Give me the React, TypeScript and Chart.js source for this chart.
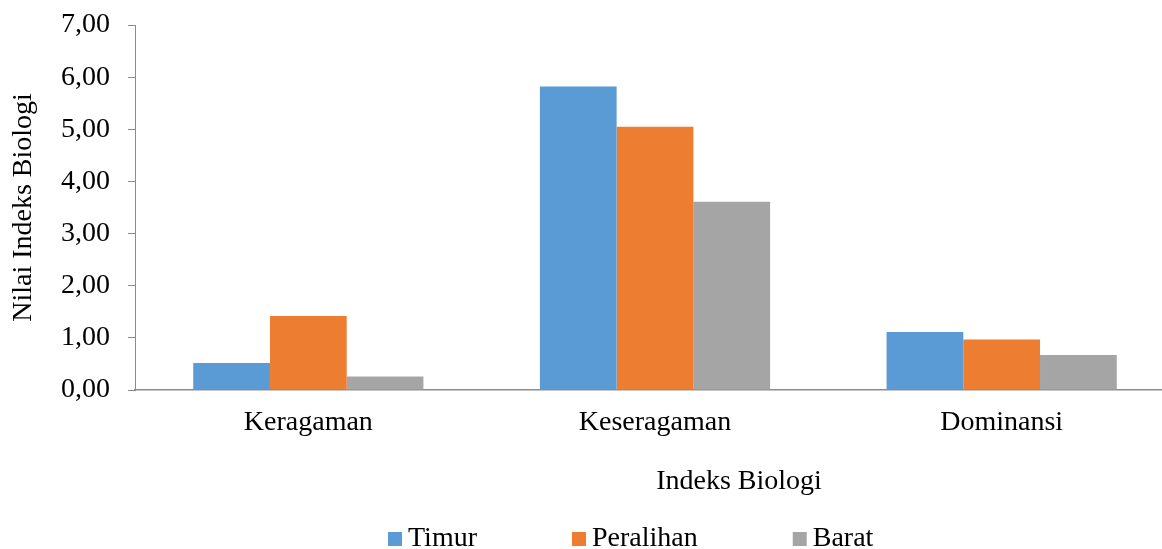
import React, { useEffect, useRef } from 'react';
import { Chart, registerables } from 'chart.js';

Chart.register(...registerables);

const categories = ['Keragaman', 'Keseragaman', 'Dominansi'];
const seriesNames = ['Timur', 'Peralihan', 'Barat'];
const timurValues = [0.52, 5.82, 1.11];
const peralihanValues = [1.42, 5.05, 0.97];
const baratValues = [0.26, 3.61, 0.67];
const seriesColors = ['#5B9BD5', '#ED7D31', '#A5A5A5'];
const yMin = 0;
const yMax = 7;
const yStep = 1;
const yTitle = 'Nilai Indeks Biologi';
const xTitle = 'Indeks Biologi';

const FONT_FAMILY = '"Liberation Serif", "Times New Roman", serif';
const FONT_SIZE = 28;
const AXIS_COLOR = '#8C8C8C';

const extrasPlugin = {
  id: 'extrasPlugin',
  afterDraw(chart: any) {
    const ctx = chart.ctx;
    ctx.save();
    ctx.font = `${FONT_SIZE}px ${FONT_FAMILY}`;
    ctx.fillStyle = '#000';
    ctx.textAlign = 'center';
    ctx.textBaseline = 'alphabetic';
    ctx.fillText(xTitle, 739, 489);

    // legend
    ctx.textAlign = 'left';
    const baseline = 546;
    const box = 14;
    let x = 388;
    chart.data.datasets.forEach((ds: any) => {
      ctx.fillStyle = ds.backgroundColor;
      ctx.fillRect(x, baseline - box, box, box);
      x += box + 6;
      ctx.fillStyle = '#000';
      ctx.fillText(ds.label, x, baseline);
      x += ctx.measureText(ds.label).width + 95;
    });
    ctx.restore();
  },
};

export default function App() {
  const canvasRef = useRef<HTMLCanvasElement | null>(null);

  useEffect(() => {
    document.body.style.margin = '0';
    document.body.style.overflow = 'hidden';
    const canvas = canvasRef.current;
    if (!canvas) return;
    const font = { family: FONT_FAMILY, size: FONT_SIZE };
    const values = [timurValues, peralihanValues, baratValues];
    const chart = new Chart(canvas, {
      type: 'bar',
      data: {
        labels: categories,
        datasets: seriesNames.map((name, i) => ({
          label: name,
          data: values[i],
          backgroundColor: seriesColors[i],
          borderWidth: 0,
          categoryPercentage: 0.664,
          barPercentage: 1.0,
        })),
      },
      options: {
        responsive: false,
        animation: false,
        layout: { padding: { top: 25, left: 0, right: 0, bottom: 0 } },
        plugins: {
          legend: { display: false },
          tooltip: { enabled: false },
        },
        scales: {
          x: {
            grid: { display: false, drawTicks: false },
            border: { display: true, color: AXIS_COLOR, width: 1.5 },
            ticks: { font, color: '#000', padding: 16, maxRotation: 0 },
            afterFit: (s: any) => {
              s.height = 159;
              s.paddingLeft = 0;
              s.paddingRight = 0;
            },
          },
          y: {
            min: yMin,
            max: yMax,
            ticks: {
              stepSize: yStep,
              font,
              color: '#000',
              padding: 18,
              callback: (v: any) => Number(v).toFixed(2).replace('.', ','),
            },
            grid: {
              display: true,
              drawOnChartArea: false,
              drawTicks: true,
              tickLength: 7,
              color: AXIS_COLOR,
              lineWidth: 1,
            },
            border: { display: true, color: AXIS_COLOR, width: 1 },
            title: {
              display: true,
              text: yTitle,
              font,
              color: '#000',
              padding: { top: 7, bottom: 0 },
            },
            afterFit: (s: any) => {
              s.width = 135;
              s.paddingTop = 0;
              s.paddingBottom = 0;
            },
          },
        },
      },
      plugins: [extrasPlugin],
    });
    return () => chart.destroy();
  }, []);

  return (
    <div style={{ position: 'relative', width: 1162, height: 549, overflow: 'hidden', background: '#fff' }}>
      <canvas ref={canvasRef} width={1175} height={549} style={{ display: 'block' }} />
    </div>
  );
}
